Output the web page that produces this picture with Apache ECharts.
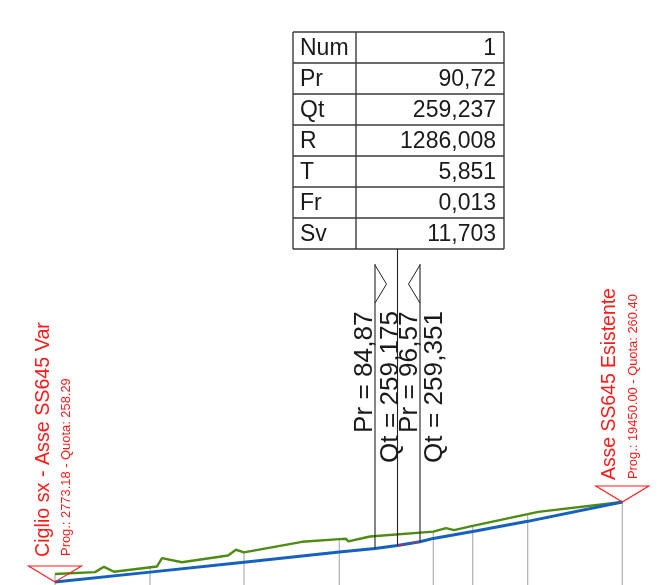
<!DOCTYPE html>
<html>
<head>
<meta charset="utf-8">
<style>html,body{margin:0;padding:0;background:#fff}#c{width:668px;height:585px}</style>
<script src="https://cdn.jsdelivr.net/npm/echarts@6/dist/echarts.min.js"></script>
</head>
<body>
<div id="c"></div>
<script>
// Profile data: progressive (m) and elevation (m)
const groundProg = [1.67,12.07,14.41,17.01,28.19,29.49,34.69,46.65,48.73,50.81,65.89,75.59,77.33,77.93,83.57,100.03,103.33,105.41,110.27,124.57,127.33,149.17];
const groundElev = [258.50,258.55,258.69,258.56,258.70,258.92,258.81,258.99,259.14,259.07,259.35,259.42,259.43,259.36,259.49,259.62,259.71,259.66,259.77,260.08,260.14,260.40];
const axisProg = [1.67,26.37,50.81,75.59,84.87,90.72,96.57,100.03,110.27,124.57,149.17];
const axisElev = [258.29,258.55,258.81,259.08,259.175,259.25,259.351,259.44,259.62,259.89,260.40];
const curveProg = [90.72,96.57];
const curveElev = [259.25,259.351];
// Stations (grey verticals)
const stationProg = [1.67,26.37,50.81,75.59,100.03,110.27,124.57,149.17];
const stationElev = [258.50,258.70,259.07,259.42,259.62,259.77,260.08,260.40];
// Vertical-curve markers
const leaderProg = [84.87,90.72,96.57];
const leaderFoot = [259.175,259.25,259.351];
const leaderTop = [266.68,267.08,266.68];
// Table
const tableLabels = ['Num','Pr','Qt','R','T','Fr','Sv'];
const tableValues = ['1','90,72','259,237','1286,008','5,851','0,013','11,703'];
// Annotations
const vcLabels = ['Pr = 84,87','Qt = 259,175','Pr = 96,57','Qt = 259,351'];
const vcLabelProg = [84.87,84.87,96.57,96.57];
const endProg = [1.67,149.17];
const endElev = [258.29,260.40];
const endTitles = ['Ciglio sx - Asse SS645 Var','Asse SS645 Esistente'];
const endNotes = ['Prog.: 2773.18 - Quota: 258.29','Prog.: 19450.00 - Quota: 260.40'];

const FONT = '"Liberation Sans", Arial, sans-serif';
const zip = (a, b) => a.map((v, i) => [v, b[i]]);
const RED = '#ff1a1a';
const chart = echarts.init(document.getElementById('c'), null, {renderer: 'canvas'});

// Table drawn as graphic
const tX0 = 293, tX1 = 504, tXm = 356, tY0 = 32, tRow = 31;
const tableEls = [];
const lineStyle = {stroke: '#3a3a3a', lineWidth: 1.4};
tableLabels.forEach((lab, i) => {
  const yc = tY0 + tRow * i + tRow / 2 + 1.5;
  tableEls.push({type: 'text', x: 300, y: yc, style: {text: lab, font: '23px ' + FONT, fill: '#1a1a1a', textAlign: 'left', textVerticalAlign: 'middle'}});
  tableEls.push({type: 'text', x: 496, y: yc, style: {text: tableValues[i], font: '23px ' + FONT, fill: '#1a1a1a', textAlign: 'right', textVerticalAlign: 'middle'}});
});
for (let i = 0; i <= tableLabels.length; i++) {
  tableEls.push({type: 'line', shape: {x1: tX0, y1: tY0 + tRow * i, x2: tX1, y2: tY0 + tRow * i}, style: lineStyle});
}
[tX0, tXm, tX1].forEach(x => tableEls.push({type: 'line', shape: {x1: x, y1: tY0, x2: x, y2: tY0 + tRow * 7}, style: lineStyle}));

const yMin = 258.21, yMax = 273.65;

chart.setOption({
  animation: false,
  backgroundColor: '#fff',
  grid: {left: 0, right: 0, top: 0, bottom: 0},
  xAxis: {type: 'value', min: -12.63, max: 161.05, show: false},
  yAxis: {type: 'value', min: yMin, max: yMax, show: false},
  graphic: tableEls,
  series: [
    { // grey station verticals
      type: 'custom', silent: true, z: 1,
      data: zip(stationProg, stationElev),
      renderItem: (p, api) => {
        const a = api.coord([api.value(0), api.value(1)]);
        const b = api.coord([api.value(0), yMin]);
        return {type: 'line', shape: {x1: a[0], y1: a[1], x2: b[0], y2: b[1]}, style: {stroke: '#b0b0b0', lineWidth: 1.2}};
      }
    },
    { type: 'line', z: 2, silent: true, symbol: 'none', data: zip(groundProg, groundElev), lineStyle: {color: '#4d8c10', width: 2.4} },
    { type: 'line', z: 3, silent: true, symbol: 'none', data: zip(axisProg, axisElev), lineStyle: {color: '#1461bf', width: 3} },
    { type: 'line', z: 4, silent: true, symbol: 'none', data: zip(curveProg, curveElev), lineStyle: {color: '#e0204a', width: 1, type: [8, 6]} },
    { // black leaders
      type: 'custom', silent: true, z: 5,
      data: leaderProg.map((x, i) => [x, leaderFoot[i], leaderTop[i]]),
      renderItem: (p, api) => {
        const a = api.coord([api.value(0), api.value(1)]);
        const b = api.coord([api.value(0), api.value(2)]);
        return {type: 'line', shape: {x1: a[0], y1: a[1], x2: b[0], y2: b[1]}, style: {stroke: '#222', lineWidth: 1.1}};
      }
    },
    { // chevrons at vertical-curve ends
      type: 'custom', silent: true, z: 5,
      data: [[leaderProg[0], leaderTop[0], 1], [leaderProg[2], leaderTop[2], -1]],
      renderItem: (p, api) => {
        const a = api.coord([api.value(0), api.value(1)]);
        const d = api.value(2);
        return {type: 'polyline', shape: {points: [[a[0], a[1] + 1], [a[0] + d * 11.5, a[1] + 20], [a[0], a[1] + 39]]}, style: {stroke: '#222', lineWidth: 1, fill: null}};
      }
    },
    { // vertical-curve labels
      type: 'custom', silent: true, z: 6,
      data: vcLabelProg.map((x, i) => [x, i]),
      renderItem: (p, api) => {
        const i = api.value(1);
        const a = api.coord([api.value(0), yMin]);
        const dx = [-10.5, 16, -10.5, 15][i];
        const yy = [433, 463, 433, 463][i];
        return {type: 'text', x: a[0] + dx, y: yy, rotation: Math.PI / 2,
          style: {text: vcLabels[i], font: '26.2px ' + FONT, fill: '#1a1a1a', textAlign: 'left', textVerticalAlign: 'middle'}};
      }
    },
    { // red end markers and their labels
      type: 'custom', silent: true, z: 7,
      data: zip(endProg, endElev).map((d, i) => [d[0], d[1], i]),
      renderItem: (p, api) => {
        const i = api.value(2);
        const a = api.coord([api.value(0), api.value(1)]);
        return {type: 'group', children: [
          {type: 'polygon', shape: {points: [[a[0], a[1]], [a[0] - 26.5, a[1] - 16], [a[0] + 26.5, a[1] - 16]]}, style: {stroke: RED, lineWidth: 1.1, fill: null}},
          {type: 'text', x: a[0] + (i ? -12.5 : -11.5), y: a[1] - (i ? 22 : 25), rotation: Math.PI / 2,
            style: {text: endTitles[i], font: (i ? '19.4px ' : '19.7px ') + FONT, fill: RED, textAlign: 'left', textVerticalAlign: 'middle'}},
          {type: 'text', x: a[0] + 11, y: a[1] - (i ? 23 : 26), rotation: Math.PI / 2,
            style: {text: endNotes[i], font: '12.9px ' + FONT, fill: RED, textAlign: 'left', textVerticalAlign: 'middle'}}
        ]};
      }
    }
  ]
});
</script>
</body>
</html>
